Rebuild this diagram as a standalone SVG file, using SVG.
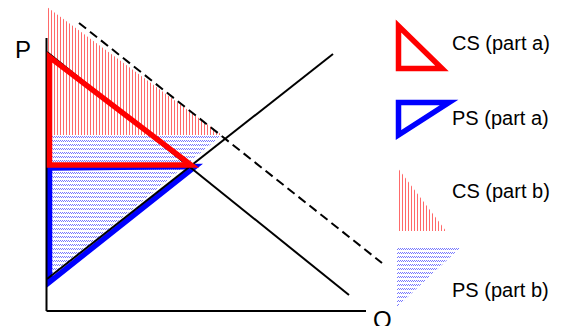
<svg xmlns="http://www.w3.org/2000/svg" width="572" height="326" viewBox="0 0 572 326">
<defs>
<pattern id="redHatch" patternUnits="userSpaceOnUse" x="0" y="0" width="3" height="4">
<rect x="0" y="0" width="1" height="4" fill="#ff6a6a"/>
</pattern>
<pattern id="blueHatch" patternUnits="userSpaceOnUse" x="0" y="0" width="2" height="4">
<rect x="0" y="0" width="1" height="1" fill="#7878ff"/>
<rect x="1" y="1" width="1" height="1" fill="#7878ff"/>
</pattern>
</defs>
<style>
.lbl{font-family:"Liberation Sans",Arial,sans-serif;font-size:20px;fill:#000}
.axl{font-family:"Liberation Sans",Arial,sans-serif;font-size:24px;fill:#000}
.ln{stroke:#000;stroke-width:2;fill:none}
.cs{fill:none;stroke:#ff0000;stroke-width:5.5;stroke-linejoin:miter}
.ps{fill:none;stroke:#0000ff;stroke-width:5.5;stroke-linejoin:miter}
</style>
<g id="areas">
<polygon id="cs-b-area" points="47,7 47,135 222,135" fill="url(#redHatch)"/>
<polygon id="ps-b-area" points="47,135 222,135 47,280" fill="url(#blueHatch)"/>
</g>
<g id="ps-a"><polygon class="ps" points="49.5,168 195,166.5 49.5,282"/></g>
<g id="connectors">
<line id="axis-y" class="ln" x1="46.5" y1="38" x2="46.5" y2="311"/>
<line id="axis-x" class="ln" x1="46.5" y1="311" x2="366" y2="311"/>
<line id="demand" class="ln" x1="47" y1="52" x2="349" y2="295"/>
<line id="supply" class="ln" x1="47" y1="279" x2="333" y2="54"/>
<line id="demand-b" class="ln" x1="79" y1="23" x2="382" y2="263" stroke-dasharray="9,5"/>
</g>
<g id="cs-a"><polygon class="cs" points="49.5,57 49.5,165 191,165"/></g>
<g id="labels">
<text class="axl" x="15" y="58">P</text>
<text class="axl" x="373" y="328">Q</text>
</g>
<g id="legend-cs-a">
<polygon class="cs" points="398.5,26 398.5,68.5 442,68.5"/>
<text class="lbl" x="452" y="50">CS (part a)</text>
</g>
<g id="legend-ps-a">
<polygon class="ps" points="398.5,102.5 449,102.5 398.5,135"/>
<text class="lbl" x="452" y="125">PS (part a)</text>
</g>
<g id="legend-cs-b">
<polygon points="397,167 397,231 446,231" fill="url(#redHatch)"/>
<text class="lbl" x="452" y="198">CS (part b)</text>
</g>
<g id="legend-ps-b">
<polygon points="397,247 461,247 397,307" fill="url(#blueHatch)"/>
<text class="lbl" x="452" y="297">PS (part b)</text>
</g>
</svg>
